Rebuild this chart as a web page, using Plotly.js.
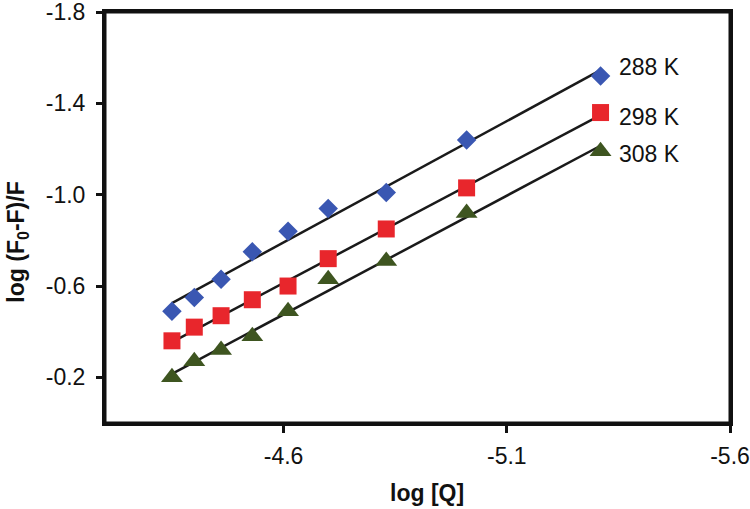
<!DOCTYPE html>
<html>
<head>
<meta charset="utf-8">
<script src="https://cdn.plot.ly/plotly-3.0.1.min.js"></script>
<style>html,body{margin:0;padding:0;background:#fff;}#chart{width:750px;height:509px;}</style>
</head>
<body>
<div id="chart"></div>
<script>
// log [Q]
var logQ = [-4.35, -4.40, -4.46, -4.53, -4.61, -4.70, -4.83, -5.01, -5.31];
// log (F0-F)/F at each temperature
var y288 = [-0.49, -0.55, -0.63, -0.75, -0.84, -0.94, -1.01, -1.24, -1.52];
var y298 = [-0.36, -0.42, -0.47, -0.54, -0.60, -0.72, -0.85, -1.03, -1.36];
var y308 = [-0.20, -0.27, -0.32, -0.38, -0.49, -0.63, -0.71, -0.92, -1.19];
var seriesNames = ['288 K', '298 K', '308 K'];
var xTicks = [-4.6, -5.1, -5.6];
var yTicks = [-1.8, -1.4, -1.0, -0.6, -0.2];

function fit(x, y) {
  var n = x.length, sx = 0, sy = 0, sxx = 0, sxy = 0;
  for (var i = 0; i < n; i++) { sx += x[i]; sy += y[i]; sxx += x[i]*x[i]; sxy += x[i]*y[i]; }
  var b = (n*sxy - sx*sy) / (n*sxx - sx*sx);
  var a = (sy - b*sx) / n;
  var x0 = x[0], x1 = x[n-1];
  return {x: [x0, x1], y: [a + b*x0, a + b*x1]};
}

var sets = [y288, y298, y308];
var colors = ['#3a57b2', '#e8262c', '#3e5520'];
var symbols = ['diamond', 'square', 'triangle-up'];
var sizes = [15, 17, 19];
var traces = [];
sets.forEach(function(ys, k) {
  var f = fit(logQ, ys);
  traces.push({x: f.x, y: f.y, mode: 'lines', line: {color: '#1a1a1a', width: 2.5}, showlegend: false, hoverinfo: 'skip'});
});
sets.forEach(function(ys, k) {
  traces.push({x: logQ, y: ys, mode: 'markers', name: seriesNames[k],
    marker: {symbol: symbols[k], size: sizes[k], color: colors[k], line: {width: 0}}, showlegend: false});
});

var FONT = 'Liberation Sans, Arial, sans-serif';
var yShifts = [9, -4, -3];
var annotations = sets.map(function(ys, k) {
  return {x: logQ[logQ.length-1], y: ys[ys.length-1], xref: 'x', yref: 'y', text: seriesNames[k],
    showarrow: false, xanchor: 'left', yanchor: 'middle', xshift: 16, yshift: yShifts[k],
    font: {family: FONT, size: 23, color: '#111'}};
});
annotations.push({text: '<b>log [Q]</b>', xref: 'paper', yref: 'paper', x: 0.515, y: -0.17,
  xanchor: 'center', yanchor: 'middle', showarrow: false, font: {family: FONT, size: 23, color: '#111'}});
annotations.push({text: '<b>log (F<sub>0</sub>-F)/F</b>', xref: 'paper', yref: 'paper', x: -0.14, y: 0.44,
  xanchor: 'center', yanchor: 'middle', textangle: -90, showarrow: false, font: {family: FONT, size: 23, color: '#111'}});

var layout = {
  width: 750, height: 509,
  margin: {l: 105, r: 20, t: 12, b: 86},
  paper_bgcolor: '#fff', plot_bgcolor: '#fff',
  font: {family: FONT, size: 23, color: '#111'},
  xaxis: {
    range: [-4.2, -5.6], tickvals: xTicks, ticktext: xTicks.map(function(v){return v.toFixed(1);}),
    showgrid: false, zeroline: false, showline: true, linecolor: '#111', linewidth: 3, mirror: true,
    ticks: 'outside', ticklen: 7, tickwidth: 3, tickcolor: '#111', ticklabelstandoff: 3,
    ticklabeloverflow: 'allow'
  },
  yaxis: {
    range: [0, -1.8005], tickvals: yTicks, ticktext: yTicks.map(function(v){return v.toFixed(1);}),
    showgrid: false, zeroline: false, showline: true, linecolor: '#111', linewidth: 3, mirror: true,
    ticks: 'outside', ticklen: 6, tickwidth: 3, tickcolor: '#111', ticklabelstandoff: 6,
    ticklabeloverflow: 'allow'
  },
  shapes: [{type: 'rect', xref: 'paper', yref: 'paper', x0: 0, x1: 1, y0: 0, y1: 1,
    line: {color: '#111', width: 3}, fillcolor: 'rgba(0,0,0,0)', layer: 'above'}],
  annotations: annotations,
  showlegend: false
};
Plotly.newPlot('chart', traces, layout, {displayModeBar: false, staticPlot: true});
</script>
</body>
</html>
